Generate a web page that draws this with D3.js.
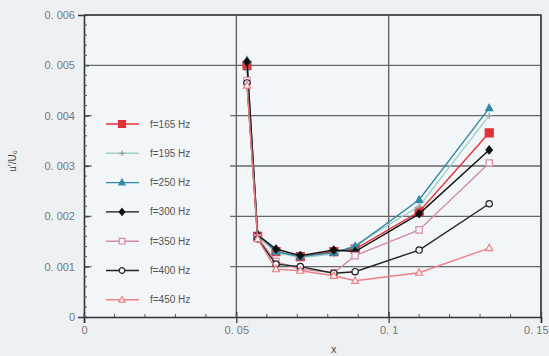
<!DOCTYPE html>
<html>
<head>
<meta charset="utf-8">
<script src="https://cdn.jsdelivr.net/npm/d3@7"></script>
<style>
	body { margin: 0; background: #edf1f4; }
	svg { display: block; font-family: 'Liberation Sans', Arial, sans-serif; }
</style>
</head>
<body>
<div id="chart"></div>
<script>
// values
const positions = [0.0535, 0.057, 0.063, 0.071, 0.082, 0.089, 0.11, 0.133]
const labels = ['f=165 Hz', 'f=195 Hz', 'f=250 Hz', 'f=300 Hz', 'f=350 Hz', 'f=400 Hz', 'f=450 Hz']
const f165 = [0.0050, 0.0016, 0.0013, 0.0012, 0.0013, 0.00135, 0.00209, 0.00366]
const f195 = [0.0049, 0.00162, 0.00128, 0.00118, 0.00125, 0.00143, 0.0022, 0.0040]
const f250 = [0.0051, 0.00165, 0.0013, 0.0012, 0.00128, 0.0014, 0.00233, 0.00415]
const f300 = [0.00507, 0.00163, 0.00135, 0.00122, 0.00133, 0.0013, 0.00205, 0.00332]
const f350 = [0.0047, 0.00158, 0.0011, 0.00095, 0.00088, 0.00122, 0.00173, 0.00306]
const f400 = [0.00465, 0.00155, 0.00105, 0.001, 0.00087, 0.0009, 0.00133, 0.00225]
const f450 = [0.0046, 0.00155, 0.00095, 0.00092, 0.00082, 0.00072, 0.00088, 0.00137]
const yTicks = [0, 0.001, 0.002, 0.003, 0.004, 0.005, 0.006]
const xTicks = [0, 0.05, 0.1, 0.15]

const series = [
	{ values: f165, color: '#e0323a', marker: 'square', fill: true },
	{ values: f195, color: '#9fcfc6', marker: 'plus', fill: true },
	{ values: f250, color: '#2f8aa6', marker: 'triangle', fill: true },
	{ values: f300, color: '#111', marker: 'diamond', fill: true },
	{ values: f350, color: '#d58aa8', marker: 'square', fill: false },
	{ values: f400, color: '#222', marker: 'circle', fill: false },
	{ values: f450, color: '#ee7f84', marker: 'triangle', fill: false }
]

const width = 549
const height = 356
const margin = { top: 15, right: 8, bottom: 39, left: 84 }
const plotRight = 541

const x = d3.scaleLinear().domain([0, 0.15]).range([margin.left, plotRight])
const y = d3.scaleLinear().domain([0, 0.006]).range([height - margin.bottom, margin.top])

const svg = d3
	.select('#chart')
	.append('svg')
	.attr('width', width)
	.attr('height', height)

svg
	.append('rect')
	.attr('x', x(0))
	.attr('y', y(0.006))
	.attr('width', x(0.15) - x(0))
	.attr('height', y(0) - y(0.006))
	.style('fill', '#f3f6f8')

// grid
const grid = svg.append('g').style('stroke', '#666').style('stroke-width', 1.4)

grid
	.selectAll('.hgrid')
	.data(yTicks.slice(1))
	.join('line')
	.attr('x1', x(0))
	.attr('x2', x(0.15))
	.attr('y1', d => y(d))
	.attr('y2', d => y(d))

grid
	.selectAll('.vgrid')
	.data(xTicks.slice(1))
	.join('line')
	.attr('x1', d => x(d))
	.attr('x2', d => x(d))
	.attr('y1', y(0))
	.attr('y2', y(0.006))

// legend box hides the grid behind it
svg
	.append('rect')
	.attr('x', x(0.0025))
	.attr('y', y(0.0048))
	.attr('width', x(0.048) - x(0.0025))
	.attr('height', y(0.00005) - y(0.0048))
	.style('fill', '#f3f6f8')

const yAxis = g =>
	g
		.attr('transform', `translate(${x(0)},0)`)
		.call(
			d3
				.axisLeft(y)
				.tickValues(yTicks)
				.tickSize(6)
				.tickFormat(d => (d === 0 ? '0' : d3.format('.3f')(d).replace('.', '. ')))
		)
		.call(g => g.selectAll('.tick line').attr('x2', 5))

const xAxis = g =>
	g
		.attr('transform', `translate(0,${y(0)})`)
		.call(
			d3
				.axisBottom(x)
				.tickValues(xTicks)
				.tickSize(6)
				.tickFormat(d => (d === 0 ? '0' : String(d).replace('.', '. ')))
		)
		.call(g => g.selectAll('.tick line').attr('y1', -5))
		// last label sits at the page edge, keep it inside
		.call(g =>
			g
				.selectAll('.tick text')
				.filter(d => d === 0.15)
				.attr('text-anchor', 'end')
				.attr('x', 7)
		)

const axes = svg.append('g')
axes.append('g').call(yAxis)
axes.append('g').call(xAxis)

axes.selectAll('.domain').style('stroke', '#333').style('stroke-width', 1.6)
axes.selectAll('.tick line').style('stroke', '#333').style('stroke-width', 1.2)
axes
	.selectAll('.tick text')
	.style('fill', '#777')
	.style('font-size', '11px')

// minor ticks
svg
	.append('g')
	.selectAll('line')
	.data(d3.range(0, 0.006001, 0.0002))
	.join('line')
	.attr('x1', x(0))
	.attr('x2', x(0) + 3)
	.attr('y1', d => y(d))
	.attr('y2', d => y(d))
	.style('stroke', '#555')

svg
	.append('g')
	.selectAll('line')
	.data(d3.range(0, 0.15001, 0.01))
	.join('line')
	.attr('x1', d => x(d))
	.attr('x2', d => x(d))
	.attr('y1', y(0))
	.attr('y2', y(0) - 3)
	.style('stroke', '#555')

// frame top and right
svg
	.append('path')
	.attr('d', `M${x(0)},${y(0.006)}H${x(0.15)}V${y(0)}`)
	.style('fill', 'none')
	.style('stroke', '#444')
	.style('stroke-width', 1.6)

// axis titles
svg
	.append('text')
	.attr('x', x(0.082))
	.attr('y', height - 3)
	.style('text-anchor', 'middle')
	.style('font-size', '11px')
	.style('fill', '#444')
	.text('x')

svg
	.append('text')
	.attr('transform', `translate(16,${y(0.0031)}) rotate(-90)`)
	.style('text-anchor', 'middle')
	.style('font-size', '10px')
	.style('fill', '#444')
	.text("u'/U₀")

const markerPath = (type, s) => {
	if (type === 'square') return `M${-s},${-s}h${2 * s}v${2 * s}h${-2 * s}Z`
	if (type === 'triangle') return `M0,${-s * 1.2}L${s * 1.1},${s * 0.8}L${-s * 1.1},${s * 0.8}Z`
	if (type === 'diamond') return `M0,${-s * 1.2}L${s},0L0,${s * 1.2}L${-s},0Z`
	if (type === 'plus') return `M${-s},0H${s}M0,${-s}V${s}`
	return d3.symbol(d3.symbolCircle, Math.PI * s * s)()
}

const drawMarker = (g, d, size) =>
	g
		.append('path')
		.attr('d', markerPath(d.marker, size))
		.style('fill', d.marker === 'plus' ? 'none' : d.fill ? d.color : '#f3f6f8')
		.style('stroke', d.marker === 'plus' ? '#999' : d.color)
		.style('stroke-width', 1.2)

const line = d3
	.line()
	.x((d, i) => x(positions[i]))
	.y(d => y(d))

const plot = svg.append('g')

series.forEach(s => {
	plot
		.append('path')
		.attr('d', line(s.values))
		.style('fill', 'none')
		.style('stroke', s.color)
		.style('stroke-width', 1.4)

	s.values.forEach((v, i) => {
		const g = plot.append('g').attr('transform', `translate(${x(positions[i])},${y(v)})`)
		drawMarker(g, s, s.marker === 'square' && s.fill ? 4 : 3.2)
	})
})

// legend
const legend = svg.append('g')

series.forEach((s, i) => {
	const ly = 124 + i * 29.3
	const item = legend.append('g').attr('transform', `translate(0,${ly})`)

	item
		.append('line')
		.attr('x1', 106)
		.attr('x2', 139)
		.style('stroke', s.color)
		.style('stroke-width', 1.4)

	drawMarker(item.append('g').attr('transform', 'translate(122,0)'), s, s.marker === 'square' && s.fill ? 3.5 : 2.8)

	item
		.append('text')
		.attr('x', 150)
		.attr('dy', '0.35em')
		.style('font-size', '10px')
		.style('fill', '#555')
		.text(labels[i])
})
</script>
</body>
</html>
